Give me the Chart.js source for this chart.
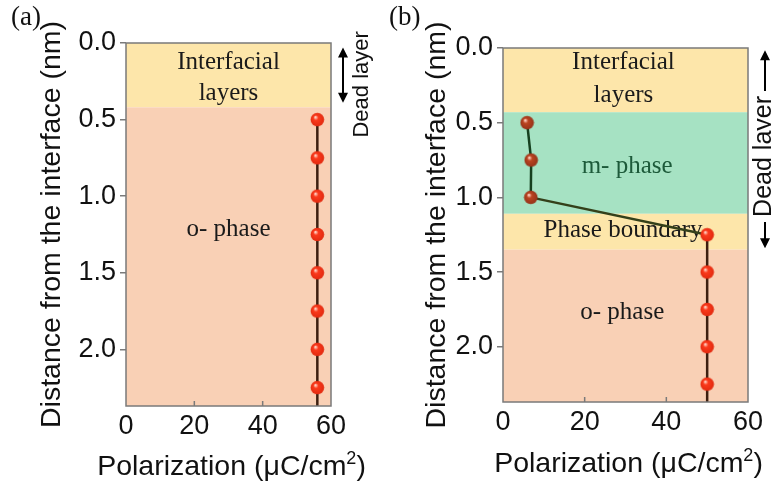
<!DOCTYPE html>
<html>
<head>
<meta charset="utf-8">
<script src="https://cdn.jsdelivr.net/npm/chart.js@4.4.1/dist/chart.umd.min.js"></script>
<style>
  body { margin: 0; background: #fff; }
  #wrap { position: relative; width: 771px; height: 486px; overflow: hidden; }
  canvas { position: absolute; top: 0; }
  #chartA { left: 0; }
  #chartB { left: 385px; }
</style>
</head>
<body>
<div id="wrap">
  <canvas id="chartA" width="385" height="486"></canvas>
  <canvas id="chartB" width="386" height="486"></canvas>
</div>
<script>
const yTicks = [0, 0.5, 1.0, 1.5, 2.0];
const xTicks = [0, 20, 40, 60];
const depthMax = 2.37;

// panel (a)
const aDepth = [0.5, 0.75, 1.0, 1.25, 1.5, 1.75, 2.0, 2.25];
const aPol = [56, 56, 56, 56, 56, 56, 56, 56];
const aBandEdges = [0, 0.42, 2.37];
const aBandNames = ['interfacial', 'o'];

// panel (b)
const bMDepth = [0.5, 0.75, 1.0];
const bMPol = [5.9, 6.9, 6.8];
const bODepth = [1.25, 1.5, 1.75, 2.0, 2.25];
const bOPol = [50, 50, 50, 50, 50];
const bBandEdges = [0, 0.43, 1.11, 1.35, 2.37];
const bBandNames = ['interfacial', 'm', 'boundary', 'o'];

const bandColors = { interfacial: '#fde6aa', m: '#a6e2c3', boundary: '#fde6aa', o: '#f9d0b5' };
const SANS = "'Liberation Sans', Arial, sans-serif";
const SERIF = "'Liberation Serif', 'Times New Roman', serif";

const makeBall = (base, dark) => {
    const c = document.createElement('canvas');
    c.width = c.height = 15;
    const g = c.getContext('2d');
    const grad = g.createRadialGradient(5.5, 5, 0.5, 7.5, 7.5, 7.2);
    grad.addColorStop(0, '#ffd0c0');
    grad.addColorStop(0.3, base);
    grad.addColorStop(1, dark);
    g.fillStyle = grad;
    g.beginPath();
    g.arc(7.5, 7.5, 6.8, 0, Math.PI * 2);
    g.fill();
    return c;
};
const oBall = makeBall('#fb3a1c', '#e0280e');
const mBall = makeBall('#bb4420', '#93321a');

const toXY = (xs, ys) => xs.map((x, i) => ({ x, y: ys[i] }));

const drawArrow = (ctx, x, y1, y2, gap) => {
    const head = 9, half = 5;
    ctx.beginPath();
    if (gap) {
        ctx.moveTo(x, y1 + head); ctx.lineTo(x, gap[0]);
        ctx.moveTo(x, gap[1]); ctx.lineTo(x, y2 - head);
    } else {
        ctx.moveTo(x, y1 + head); ctx.lineTo(x, y2 - head);
    }
    ctx.stroke();
    ctx.beginPath();
    ctx.moveTo(x, y1); ctx.lineTo(x - half, y1 + head + 1); ctx.lineTo(x + half, y1 + head + 1); ctx.closePath();
    ctx.moveTo(x, y2); ctx.lineTo(x - half, y2 - head - 1); ctx.lineTo(x + half, y2 - head - 1); ctx.closePath();
    ctx.fill();
};

const drawXTitle = (ctx, cx, cy) => {
    const main = 'Polarization (μC/cm', sup = '2', tail = ')';
    const big = '28.5px ' + SANS, small = '18px ' + SANS;
    ctx.font = big;
    const w1 = ctx.measureText(main).width, w3 = ctx.measureText(tail).width;
    ctx.font = small;
    const w2 = ctx.measureText(sup).width;
    let x = cx - (w1 + w2 + w3) / 2;
    ctx.textAlign = 'left';
    ctx.textBaseline = 'alphabetic';
    const base = cy + 10;
    ctx.font = big; ctx.fillText(main, x, base); x += w1;
    ctx.font = small; ctx.fillText(sup, x, base - 11); x += w2;
    ctx.font = big; ctx.fillText(tail, x, base);
};

const deco = {
    id: 'deco',
    beforeDraw(chart, args, o) {
        const { ctx, chartArea: a, scales: { y } } = chart;
        ctx.save();
        o.names.forEach((n, i) => {
            const t = y.getPixelForValue(o.edges[i]);
            const b = y.getPixelForValue(o.edges[i + 1]);
            ctx.fillStyle = bandColors[n];
            ctx.fillRect(a.left, t, a.right - a.left, b - t);
        });
        ctx.restore();
    },
    beforeDatasetsDraw(chart, args, o) {
        const { ctx, scales: { x, y } } = chart;
        ctx.save();
        ctx.font = '25px ' + SERIF;
        ctx.textAlign = 'center';
        ctx.textBaseline = 'middle';
        o.labels.forEach(l => {
            ctx.fillStyle = l.color || '#1a1a1a';
            ctx.fillText(l.text, x.getPixelForValue(l.x), y.getPixelForValue(l.y));
        });
        ctx.restore();
    },
    afterDraw(chart, args, o) {
        const { ctx, chartArea: a, scales: { x, y } } = chart;
        ctx.save();
        // frame
        ctx.strokeStyle = '#7a7a7a';
        ctx.lineWidth = 1.5;
        ctx.strokeRect(a.left, a.top, a.right - a.left, a.bottom - a.top);
        // inward x ticks
        ctx.beginPath();
        xTicks.slice(1, -1).forEach(v => {
            const px = x.getPixelForValue(v);
            ctx.moveTo(px, a.bottom); ctx.lineTo(px, a.bottom - 5);
        });
        ctx.stroke();
        // x title
        ctx.fillStyle = '#111';
        drawXTitle(ctx, (a.left + a.right) / 2 + 3, o.xTitleY);
        // panel tag
        ctx.font = '27px ' + SERIF;
        ctx.textBaseline = 'middle';
        ctx.textAlign = 'left';
        ctx.fillText(o.tag, o.tagX, 18);
        // dead layer arrow
        const d = o.dead;
        const y1 = y.getPixelForValue(d.from), y2 = y.getPixelForValue(d.to);
        const ax = a.right + d.dx;
        ctx.strokeStyle = '#000';
        ctx.fillStyle = '#000';
        ctx.lineWidth = 2;
        ctx.font = d.size + 'px ' + SANS;
        const tw = ctx.measureText('Dead layer').width;
        const ty = y.getPixelForValue(d.textAt);
        drawArrow(ctx, ax, y1, y2, d.inline ? [ty - tw / 2 - 5, ty + tw / 2 + 5] : null);
        ctx.translate(a.right + d.tx, ty);
        ctx.rotate(-Math.PI / 2);
        ctx.textAlign = 'center';
        ctx.fillStyle = '#111';
        ctx.fillText('Dead layer', 0, 0);
        ctx.restore();
    }
};

const makeScales = (yWidth, xHeight) => ({
    x: {
        type: 'linear', min: 0, max: 60,
        afterFit: s => { s.height = xHeight; },
        afterBuildTicks: s => { s.ticks = xTicks.map(v => ({ value: v })); },
        grid: { display: false, drawTicks: false },
        border: { display: false },
        ticks: { padding: 4, color: '#111', font: { family: SANS, size: 27 } }
    },
    y: {
        type: 'linear', reverse: true, min: 0, max: depthMax,
        afterFit: s => { s.width = yWidth; },
        afterBuildTicks: s => { s.ticks = yTicks.map(v => ({ value: v })); },
        grid: { drawOnChartArea: false, drawTicks: true, tickLength: 6, color: '#7a7a7a', lineWidth: 1.5 },
        border: { display: false },
        ticks: { padding: 4, color: '#111', font: { family: SANS, size: 27 }, callback: v => v.toFixed(1) },
        title: {
            display: true, text: 'Distance from the interface (nm)', color: '#111',
            font: { family: SANS, size: 28.5 }, padding: { top: 35, bottom: 0 }
        }
    }
});

const baseOptions = {
    responsive: false,
    animation: false,
    events: []
};

new Chart(document.getElementById('chartA'), {
    type: 'scatter',
    data: {
        datasets: [
            { data: toXY(aPol, aDepth), pointStyle: oBall, pointRadius: 7, order: 0 },
            {
                data: [{ x: aPol[0], y: aDepth[0] }, { x: aPol[0], y: depthMax }],
                showLine: true, pointRadius: 0, borderColor: '#3d1f10', borderWidth: 2.5, order: 1
            }
        ]
    },
    options: {
        ...baseOptions,
        layout: { padding: { top: 43, right: 54, left: 0, bottom: 0 } },
        scales: makeScales(126, 80),
        plugins: {
            legend: { display: false },
            tooltip: { enabled: false },
            deco: {
                edges: aBandEdges, names: aBandNames, tag: '(a)', tagX: 11, xTitleY: 465,
                labels: [
                    { text: 'Interfacial', x: 30, y: 0.13 },
                    { text: 'layers', x: 30, y: 0.33 },
                    { text: 'o- phase', x: 30, y: 1.22 }
                ],
                dead: { from: 0.03, to: 0.39, dx: 12, tx: 31, textAt: 0.27, size: 22, inline: false }
            }
        }
    },
    plugins: [deco]
});

new Chart(document.getElementById('chartB'), {
    type: 'scatter',
    data: {
        datasets: [
            { data: toXY(bMPol, bMDepth), pointStyle: mBall, pointRadius: 7, order: 0 },
            { data: toXY(bOPol, bODepth), pointStyle: oBall, pointRadius: 7, order: 0 },
            {
                data: toXY(bMPol, bMDepth).concat([{ x: bOPol[0], y: bODepth[0] }]),
                showLine: true, pointRadius: 0, borderColor: '#16401f', borderWidth: 2.5, order: 1,
                segment: { borderColor: c => c.p1DataIndex === bMPol.length ? '#34401a' : undefined }
            },
            {
                data: [{ x: bOPol[0], y: bODepth[0] }, { x: bOPol[0], y: depthMax }],
                showLine: true, pointRadius: 0, borderColor: '#3d1f10', borderWidth: 2.5, order: 1
            }
        ]
    },
    options: {
        ...baseOptions,
        layout: { padding: { top: 48, right: 23, left: 0, bottom: 0 } },
        scales: makeScales(118, 84),
        plugins: {
            legend: { display: false },
            tooltip: { enabled: false },
            deco: {
                edges: bBandEdges, names: bBandNames, tag: '(b)', tagX: 4, xTitleY: 462,
                labels: [
                    { text: 'Interfacial', x: 29.5, y: 0.10 },
                    { text: 'layers', x: 29.5, y: 0.32 },
                    { text: 'm- phase', x: 30.4, y: 0.79, color: '#1d5a3a' },
                    { text: 'Phase boundary', x: 29.4, y: 1.22 },
                    { text: 'o- phase', x: 29.2, y: 1.77 }
                ],
                dead: { from: 0.015, to: 1.34, dx: 17, tx: 16, textAt: 0.726, size: 25, inline: true }
            }
        }
    },
    plugins: [deco]
});
</script>
</body>
</html>
